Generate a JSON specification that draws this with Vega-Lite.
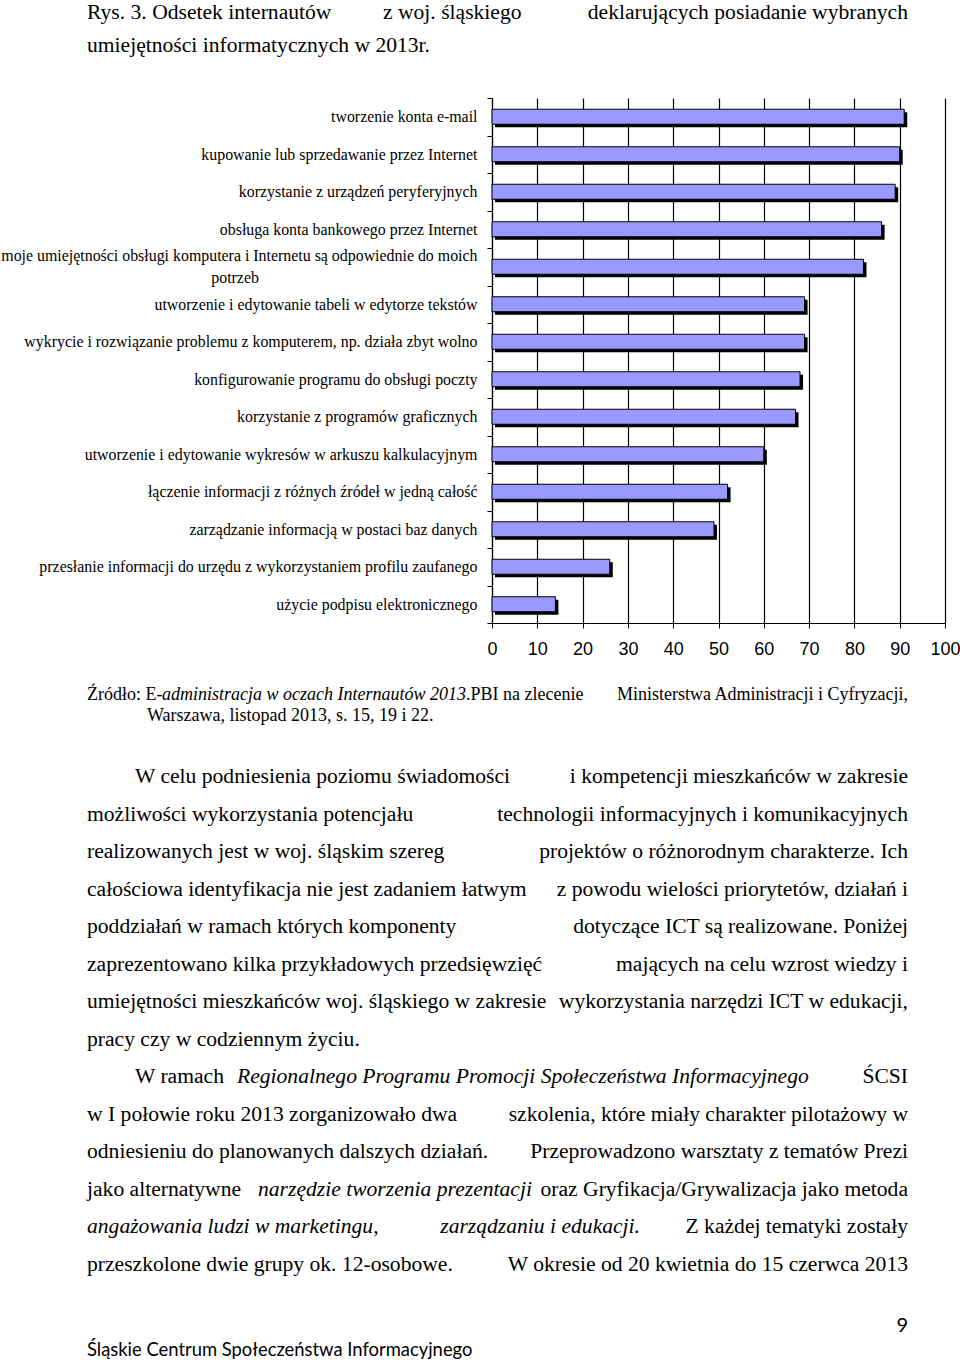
{
"$schema": "https://vega.github.io/schema/vega-lite/v6.json",
"padding": 0,
"bounds": "flush",
"spacing": 0,
"background": "white",
"config": {"view": {"stroke": null}},
"datasets": {
"skills": [
{"skill": "tworzenie konta e-mail", "pct": 91},
{"skill": "kupowanie lub sprzedawanie przez Internet", "pct": 90},
{"skill": "korzystanie z urządzeń peryferyjnych", "pct": 89},
{"skill": "obsługa konta bankowego przez Internet", "pct": 86},
{"skill": "moje umiejętności obsługi komputera i Internetu są odpowiednie do moich potrzeb", "pct": 82},
{"skill": "utworzenie i edytowanie tabeli w edytorze tekstów", "pct": 69},
{"skill": "wykrycie i rozwiązanie problemu z komputerem, np. działa zbyt wolno", "pct": 69},
{"skill": "konfigurowanie programu do obsługi poczty", "pct": 68},
{"skill": "korzystanie z programów graficznych", "pct": 67},
{"skill": "utworzenie i edytowanie wykresów w arkuszu kalkulacyjnym", "pct": 60},
{"skill": "łączenie informacji z różnych źródeł w jedną całość", "pct": 52},
{"skill": "zarządzanie informacją w postaci baz danych", "pct": 49},
{"skill": "przesłanie informacji do urzędu z wykorzystaniem profilu zaufanego", "pct": 26},
{"skill": "użycie podpisu elektronicznego", "pct": 14}
],
"title_left": [
{"line": 1, "text": "Rys. 3. Odsetek internautów"},
{"line": 2, "text": "umiejętności informatycznych w 2013r."}
],
"title_mid": [{"line": 1, "text": "z woj. śląskiego"}],
"title_right": [{"line": 1, "text": "deklarujących posiadanie wybranych"}],
"src_left": [{"line": 1, "text": "Źródło: E-"}],
"src_italic": [{"line": 1, "text": "administracja w oczach Internautów 2013"}],
"src_mid": [{"line": 1, "text": ".PBI na zlecenie"}],
"src_right": [{"line": 1, "text": "Ministerstwa Administracji i Cyfryzacji,"}],
"src_indent": [{"line": 2, "text": "Warszawa, listopad 2013, s. 15, 19 i 22."}],
"body_indent": [
{"line": 1, "text": "W celu podniesienia poziomu świadomości"},
{"line": 9, "text": "W ramach"}
],
"body_left": [
{"line": 2, "text": "możliwości wykorzystania potencjału"},
{"line": 3, "text": "realizowanych jest w woj. śląskim szereg"},
{"line": 4, "text": "całościowa identyfikacja nie jest zadaniem łatwym"},
{"line": 5, "text": "poddziałań w ramach których komponenty"},
{"line": 6, "text": "zaprezentowano kilka przykładowych przedsięwzięć"},
{"line": 7, "text": "umiejętności mieszkańców woj. śląskiego w zakresie"},
{"line": 8, "text": "pracy czy w codziennym życiu."},
{"line": 10, "text": "w I połowie roku 2013 zorganizowało dwa"},
{"line": 11, "text": "odniesieniu do planowanych dalszych działań."},
{"line": 12, "text": "jako alternatywne"},
{"line": 14, "text": "przeszkolone dwie grupy ok. 12-osobowe."}
],
"body_right": [
{"line": 1, "text": "i kompetencji mieszkańców w zakresie"},
{"line": 2, "text": "technologii informacyjnych i komunikacyjnych"},
{"line": 3, "text": "projektów o różnorodnym charakterze. Ich"},
{"line": 4, "text": "z powodu wielości priorytetów, działań i"},
{"line": 5, "text": "dotyczące ICT są realizowane. Poniżej"},
{"line": 6, "text": "mających na celu wzrost wiedzy i"},
{"line": 7, "text": "wykorzystania narzędzi ICT w edukacji,"},
{"line": 9, "text": "ŚCSI"},
{"line": 10, "text": "szkolenia, które miały charakter pilotażowy w"},
{"line": 11, "text": "Przeprowadzono warsztaty z tematów Prezi"},
{"line": 12, "text": "oraz Gryfikacja/Grywalizacja jako metoda"},
{"line": 13, "text": "Z każdej tematyki zostały"},
{"line": 14, "text": "W okresie od 20 kwietnia do 15 czerwca 2013"}
],
"body_italic_left": [{"line": 13, "text": "angażowania ludzi w marketingu,"}],
"body_italic_right": [{"line": 13, "text": "zarządzaniu i edukacji."}],
"body_italic_a": [{"line": 9, "text": "Regionalnego Programu Promocji Społeczeństwa Informacyjnego"}],
"body_italic_b": [{"line": 12, "text": "narzędzie tworzenia prezentacji"}],
"page_no": [{"line": 1, "text": "9"}],
"footer": [{"line": 2, "text": "Śląskie Centrum Społeczeństwa Informacyjnego"}]
},
"vconcat": [
{
"width": 453, "height": 98,
"encoding": {
"y": {"field": "line", "type": "quantitative", "scale": {"domain": [0.6061, 3.5758], "nice": false, "zero": false, "reverse": true}, "axis": null},
"text": {"field": "text"}
},
"layer": [
{"data": {"name": "title_left"}, "mark": {"type": "text", "align": "left", "baseline": "middle", "font": "Liberation Serif", "fontSize": 21.6, "color": "black"}, "encoding": {"x": {"value": -405}}},
{"data": {"name": "title_mid"}, "mark": {"type": "text", "align": "left", "baseline": "middle", "font": "Liberation Serif", "fontSize": 21.6, "color": "black"}, "encoding": {"x": {"value": -109}}},
{"data": {"name": "title_right"}, "mark": {"type": "text", "align": "right", "baseline": "middle", "font": "Liberation Serif", "fontSize": 21.6, "color": "black"}, "encoding": {"x": {"value": 416}}}
]
},
{
"width": 453, "height": 525,
"data": {"name": "skills"},
"encoding": {
"y": {"field": "skill", "type": "nominal", "sort": null, "scale": {"paddingInner": 0, "paddingOuter": 0},
"axis": {"title": null, "domainColor": "black", "domainWidth": 1.2, "tickColor": "black", "tickSize": 5, "tickBand": "extent",
"labelFont": "Liberation Serif", "labelFontSize": 15.9, "labelColor": "black", "labelPadding": 10, "labelLimit": 700, "labelLineHeight": 22,
"labelOffset": {"condition": {"test": "datum.value === 'moje umiejętności obsługi komputera i Internetu są odpowiednie do moich potrzeb'", "value": -11}, "value": 0},
"labelExpr": "datum.value === 'moje umiejętności obsługi komputera i Internetu są odpowiednie do moich potrzeb' ? ['moje umiejętności obsługi komputera i Internetu są odpowiednie do moich', pad('potrzeb', 59, '\u00a0', 'right') + '\u2800'] : datum.label"}},
"x": {"field": "pct", "type": "quantitative", "scale": {"domain": [0, 100], "nice": false},
"axis": {"title": null, "values": [0, 10, 20, 30, 40, 50, 60, 70, 80, 90, 100], "grid": true, "gridColor": "black", "gridWidth": 1.2, "gridOpacity": 1,
"domainColor": "black", "domainWidth": 1.2, "tickColor": "black", "tickSize": 5, "labelFont": "Liberation Sans", "labelFontSize": 18,
"labelColor": "black", "labelPadding": 12, "labelFlush": false, "labelOverlap": false}}
},
"layer": [
{"mark": {"type": "bar", "color": "black", "size": 15, "xOffset": 3, "x2Offset": 3, "yOffset": 3, "y2Offset": 3}},
{"mark": {"type": "bar", "fill": "#9999FF", "stroke": "black", "strokeWidth": 1, "size": 15}}
]
},
{
"width": 453, "height": 117,
"encoding": {
"y": {"field": "line", "type": "quantitative", "scale": {"domain": [-2.4286, 3.1429], "nice": false, "zero": false, "reverse": true}, "axis": null},
"text": {"field": "text"}
},
"layer": [
{"data": {"name": "src_left"}, "mark": {"type": "text", "align": "left", "baseline": "middle", "font": "Liberation Serif", "fontSize": 18, "color": "black"}, "encoding": {"x": {"value": -405}}},
{"data": {"name": "src_italic"}, "mark": {"type": "text", "align": "left", "baseline": "middle", "font": "Liberation Serif", "fontSize": 18, "fontStyle": "italic", "color": "black"}, "encoding": {"x": {"value": -330}}},
{"data": {"name": "src_mid"}, "mark": {"type": "text", "align": "left", "baseline": "middle", "font": "Liberation Serif", "fontSize": 18, "color": "black"}, "encoding": {"x": {"value": -26}}},
{"data": {"name": "src_right"}, "mark": {"type": "text", "align": "right", "baseline": "middle", "font": "Liberation Serif", "fontSize": 18, "color": "black"}, "encoding": {"x": {"value": 416}}},
{"data": {"name": "src_indent"}, "mark": {"type": "text", "align": "left", "baseline": "middle", "font": "Liberation Serif", "fontSize": 18, "color": "black"}, "encoding": {"x": {"value": -345}}}
]
},
{
"width": 453, "height": 550,
"encoding": {
"y": {"field": "line", "type": "quantitative", "scale": {"domain": [0.0144, 14.666], "nice": false, "zero": false, "reverse": true}, "axis": null},
"text": {"field": "text"}
},
"layer": [
{"data": {"name": "body_indent"}, "mark": {"type": "text", "align": "left", "baseline": "middle", "font": "Liberation Serif", "fontSize": 21.6, "color": "black"}, "encoding": {"x": {"value": -357}}},
{"data": {"name": "body_left"}, "mark": {"type": "text", "align": "left", "baseline": "middle", "font": "Liberation Serif", "fontSize": 21.6, "color": "black"}, "encoding": {"x": {"value": -405}}},
{"data": {"name": "body_right"}, "mark": {"type": "text", "align": "right", "baseline": "middle", "font": "Liberation Serif", "fontSize": 21.6, "color": "black"}, "encoding": {"x": {"value": 416}}},
{"data": {"name": "body_italic_left"}, "mark": {"type": "text", "align": "left", "baseline": "middle", "font": "Liberation Serif", "fontSize": 21.6, "fontStyle": "italic", "color": "black"}, "encoding": {"x": {"value": -405}}},
{"data": {"name": "body_italic_right"}, "mark": {"type": "text", "align": "right", "baseline": "middle", "font": "Liberation Serif", "fontSize": 21.6, "fontStyle": "italic", "color": "black"}, "encoding": {"x": {"value": 148}}},
{"data": {"name": "body_italic_a"}, "mark": {"type": "text", "align": "left", "baseline": "middle", "font": "Liberation Serif", "fontSize": 21.6, "fontStyle": "italic", "color": "black"}, "encoding": {"x": {"value": -255}}},
{"data": {"name": "body_italic_b"}, "mark": {"type": "text", "align": "left", "baseline": "middle", "font": "Liberation Serif", "fontSize": 21.6, "fontStyle": "italic", "color": "black"}, "encoding": {"x": {"value": -234}}}
]
},
{
"width": 453, "height": 73,
"encoding": {
"y": {"field": "line", "type": "quantitative", "scale": {"domain": [-0.5, 2.5417], "nice": false, "zero": false, "reverse": true}, "axis": null},
"text": {"field": "text"}
},
"layer": [
{"data": {"name": "page_no"}, "mark": {"type": "text", "align": "right", "baseline": "middle", "font": "Lato", "fontSize": 20, "color": "black"}, "encoding": {"x": {"value": 416}}},
{"data": {"name": "footer"}, "mark": {"type": "text", "align": "left", "baseline": "middle", "font": "Lato", "fontSize": 18.4, "color": "black"}, "encoding": {"x": {"value": -405}}}
]
}
]
}
